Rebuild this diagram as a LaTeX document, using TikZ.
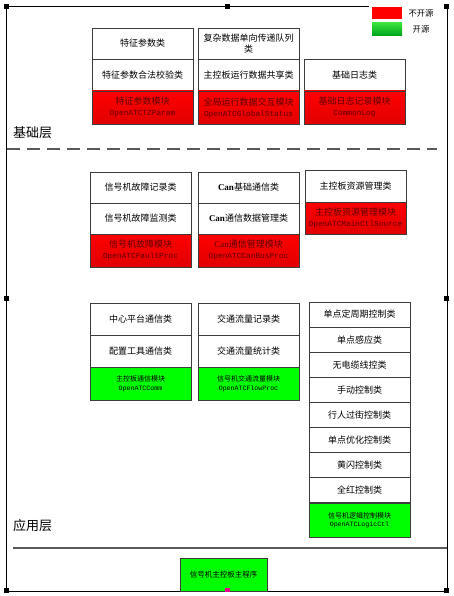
\documentclass[tikz,border=0pt]{standalone}
\usepackage{fontspec}
\setmainfont{Liberation Serif}
\newfontfamily\cjk{Noto Sans CJK SC}
\newfontfamily\monof{Liberation Mono}
\definecolor{darkred}{RGB}{95,0,0}
\definecolor{boxline}{RGB}{60,60,60}
\definecolor{redbot}{RGB}{225,0,0}
\newcommand{\mtext}[1]{{\monof\fontsize{7.8}{10}\selectfont #1}}
\newcommand{\gmtext}[1]{{\monof\fontsize{6.6}{8.5}\selectfont #1}}
\newcommand{\canb}{{\rmfamily\bfseries Can}}
\newcommand{\canr}{{\rmfamily Can}}
\begin{document}
\begin{tikzpicture}[x=1pt,y=-1pt,
  box/.style={draw=boxline, line width=0.8pt, inner sep=0pt, outer sep=0pt, anchor=north west,
    minimum width=101pt, align=center, font=\cjk\fontsize{9}{11}\selectfont},
  wbox/.style={box, fill=white},
  rbox/.style={box, top color=red, bottom color=redbot, text=darkred},
  gbox/.style={box, fill=green, font=\cjk\fontsize{7}{8.5}\selectfont},
  handle/.style={fill=black},
  layerlabel/.style={anchor=west, inner sep=0pt, font=\cjk\fontsize{13}{13}\selectfont},
  legtext/.style={inner sep=0pt, font=\cjk\fontsize{8.3}{10}\selectfont}]
\useasboundingbox (0,0) rectangle (453,596);
\fill[white] (0,0) rectangle (453,596);
% frame
\draw[black, line width=0.8pt] (6,6) rectangle (447,591);
% legend
\fill[white] (369,3) rectangle (444,39);
\node[draw=none, fill=red, minimum width=30pt, minimum height=12pt, inner sep=0pt, anchor=north west] (lr) at (372,7) {};
\node[legtext] (lrt) at (421,13) {不开源};
\node[draw=none, top color={rgb,255:red,60;green,230;blue,60}, bottom color={rgb,255:red,0;green,165;blue,30}, minimum width=30pt, minimum height=13pt, inner sep=0pt, anchor=north west] (lg) at (372,22) {};
\node[legtext] (lgt) at (421,29) {开源};
% handles
\fill[handle] (4,4) rectangle (9,9);
\fill[handle] (225,4) rectangle (230,9);
\fill[handle] (444,4) rectangle (449,9);
\fill[handle] (4,296) rectangle (9,301);
\fill[handle] (444,296) rectangle (449,301);
\fill[handle] (4,588) rectangle (9,593);
\fill[handle] (444,588) rectangle (449,593);
% layer separators
\draw[black!65, line width=1.6pt, dash pattern=on 13pt off 7pt] (7,149) -- (437,149);
\draw[black!65, line width=1.5pt] (13,548) -- (447,548);
\node[layerlabel] (jcc) at (13,133) {基础层};
\node[layerlabel] (yyc) at (13,526) {应用层};
% base layer
\node[wbox, minimum height=31pt] (a1) at (92,28) {特征参数类};
\node[wbox, minimum height=32pt] (a2) at (92,59) {特征参数合法校验类};
\node[rbox, minimum height=33pt] (a3) at (92,91) {特征参数模块\\\mtext{OpenATCTZParam}};
\node[wbox, minimum height=31pt] (b1) at (198,28) {复杂数据单向传递队列\\类};
\node[wbox, minimum height=32pt] (b2) at (198,59) {主控板运行数据共享类};
\node[rbox, minimum height=33pt] (b3) at (198,91) {全局运行数据交互模块\\\mtext{OpenATCGlobalStatus}};
\node[wbox, minimum height=32pt] (c2) at (304,59) {基础日志类};
\node[rbox, minimum height=33pt] (c3) at (304,91) {基础日志记录模块\\\mtext{CommonLog}};
% middle layer
\node[wbox, minimum height=31pt] (d1) at (90,172) {信号机故障记录类};
\node[wbox, minimum height=31pt] (d2) at (90,203) {信号机故障监测类};
\node[rbox, minimum height=33pt] (d3) at (90,234) {信号机故障模块\\\mtext{OpenATCFaultProc}};
\node[wbox, minimum height=31pt] (e1) at (198,172) {\canb 基础通信类};
\node[wbox, minimum height=31pt] (e2) at (198,203) {\canb 通信数据管理类};
\node[rbox, minimum height=33pt] (e3) at (198,234) {\canr 通信管理模块\\\mtext{OpenATCCanBusProc}};
\node[wbox, minimum height=32pt] (f1) at (305,170) {主控板资源管理类};
\node[rbox, minimum height=32pt] (f2) at (305,202) {主控板资源管理模块\\\mtext{OpenATCMainCtlSource}};
% application layer
\node[wbox, minimum height=32pt] (g1) at (90,303) {中心平台通信类};
\node[wbox, minimum height=32pt] (g2) at (90,335) {配置工具通信类};
\node[gbox, minimum height=33pt] (g3) at (90,367) {主控板通信模块\\\gmtext{OpenATCComm}};
\node[wbox, minimum height=32pt] (h1) at (198,303) {交通流量记录类};
\node[wbox, minimum height=32pt] (h2) at (198,335) {交通流量统计类};
\node[gbox, minimum height=33pt] (h3) at (198,367) {信号机交通流量模块\\\gmtext{OpenATCFlowProc}};
\node[wbox, minimum height=25.1pt] (k1) at (309,302) {单点定周期控制类};
\node[wbox, minimum height=25.1pt] (k2) at (309,327.1) {单点感应类};
\node[wbox, minimum height=25.1pt] (k3) at (309,352.2) {无电缆线控类};
\node[wbox, minimum height=25.1pt] (k4) at (309,377.3) {手动控制类};
\node[wbox, minimum height=25.1pt] (k5) at (309,402.4) {行人过街控制类};
\node[wbox, minimum height=25.1pt] (k6) at (309,427.5) {单点优化控制类};
\node[wbox, minimum height=25.1pt] (k7) at (309,452.6) {黄闪控制类};
\node[wbox, minimum height=25.1pt] (k8) at (309,477.7) {全红控制类};
\node[gbox, minimum height=34pt] (k9) at (309,503) {信号机逻辑控制模块\\\gmtext{OpenATCLogicCtl}};
% main program
\node[gbox, minimum width=87pt, minimum height=33pt, font=\cjk\fontsize{7.5}{9}\selectfont] (m) at (180,558) {信号机主控板主程序};
\fill[magenta] (225,588) rectangle (230,592);
\end{tikzpicture}
\end{document}
